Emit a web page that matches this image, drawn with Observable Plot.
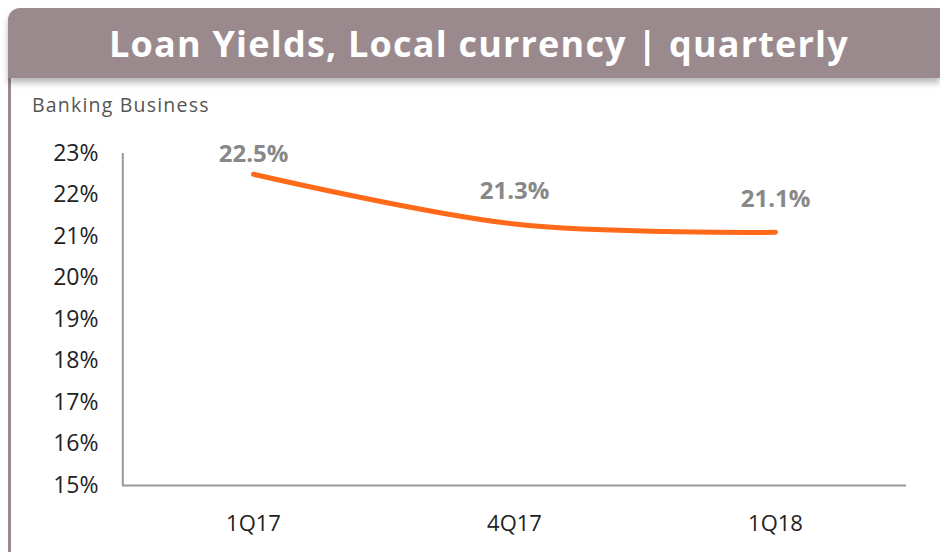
<!DOCTYPE html>
<html>
<head>
<meta charset="utf-8">
<script src="https://cdn.jsdelivr.net/npm/d3@7"></script>
<script src="https://cdn.jsdelivr.net/npm/@observablehq/plot@0.6"></script>
<style>
  html, body { margin: 0; padding: 0; background: #fff; }
  body { width: 940px; height: 552px; position: relative; overflow: hidden; font-family: "Open Sans", sans-serif; }
  #banner {
    position: absolute; left: 8px; top: 8px; width: 932px; height: 70px;
    background: #9a8a8e; border-top-left-radius: 12px;
    box-shadow: 0 5px 6px rgba(0,0,0,0.28);
    z-index: 3;
  }
  #title {
    position: absolute; left: 13px; top: 8px; width: 932px; height: 70px;
    line-height: 72px; text-align: center; color: #fff;
    font-family: "Open Sans", sans-serif; font-weight: 700; font-size: 36px; letter-spacing: 1.2px;
    z-index: 4;
  }
  #leftbar { position: absolute; left: 8px; top: 70px; width: 3px; height: 482px; background: #9a8a8e; z-index: 2; }
  #subtitle { position: absolute; left: 32px; top: 91px; font-size: 19.5px; letter-spacing: 1.2px; color: #555; z-index: 2; }
  #chart { position: absolute; left: 0; top: 0; z-index: 1; }
  #chart svg { background: transparent; }
</style>
</head>
<body>
<div id="banner"></div>
<div id="title">Loan Yields, Local currency | quarterly</div>
<div id="leftbar"></div>
<div id="subtitle">Banking Business</div>
<div id="chart"></div>
<script>
const quarters = ["1Q17", "4Q17", "1Q18"];
const yields = [22.5, 21.3, 21.1];
const yTicks = [15, 16, 17, 18, 19, 20, 21, 22, 23];

const data = quarters.map((q, i) => ({quarter: q, value: yields[i]}));

const chart = Plot.plot({
  width: 940,
  height: 552,
  marginLeft: 122,
  marginRight: 34,
  marginTop: 153,
  marginBottom: 67,
  style: {fontFamily: "Open Sans, sans-serif", fontSize: "22px", color: "#222", background: "transparent"},
  x: {type: "point", domain: quarters, padding: 0.5, label: null},
  y: {domain: [15, 23], label: null},
  marks: [
    Plot.axisY({ticks: yTicks, tickSize: 0, tickPadding: 24, tickFormat: d => d + "%", fontSize: 23, fill: "#222", label: null}),
    Plot.axisX({tickSize: 0, tickPadding: 30, fontSize: 22, fill: "#222", label: null}),
    Plot.ruleY([15], {stroke: "#999", strokeWidth: 2}),
    Plot.ruleX([0], {x: () => quarters[0], dx: -130.7, y1: 15, y2: 23, stroke: "#999", strokeWidth: 2}),
    Plot.line(data, {x: "quarter", y: "value", curve: "catmull-rom", stroke: "#ff6a1a", strokeWidth: 5, strokeLinecap: "round"}),
    Plot.text(data.slice(0, 1), {x: "quarter", y: "value", text: d => d.value.toFixed(1) + "%", dy: -20, fontSize: 24, fontWeight: 700, fill: "#888"}),
    Plot.text(data.slice(1), {x: "quarter", y: "value", text: d => d.value.toFixed(1) + "%", dy: -33, fontSize: 24, fontWeight: 700, fill: "#888"})
  ]
});
document.getElementById("chart").appendChild(chart);
</script>
</body>
</html>
